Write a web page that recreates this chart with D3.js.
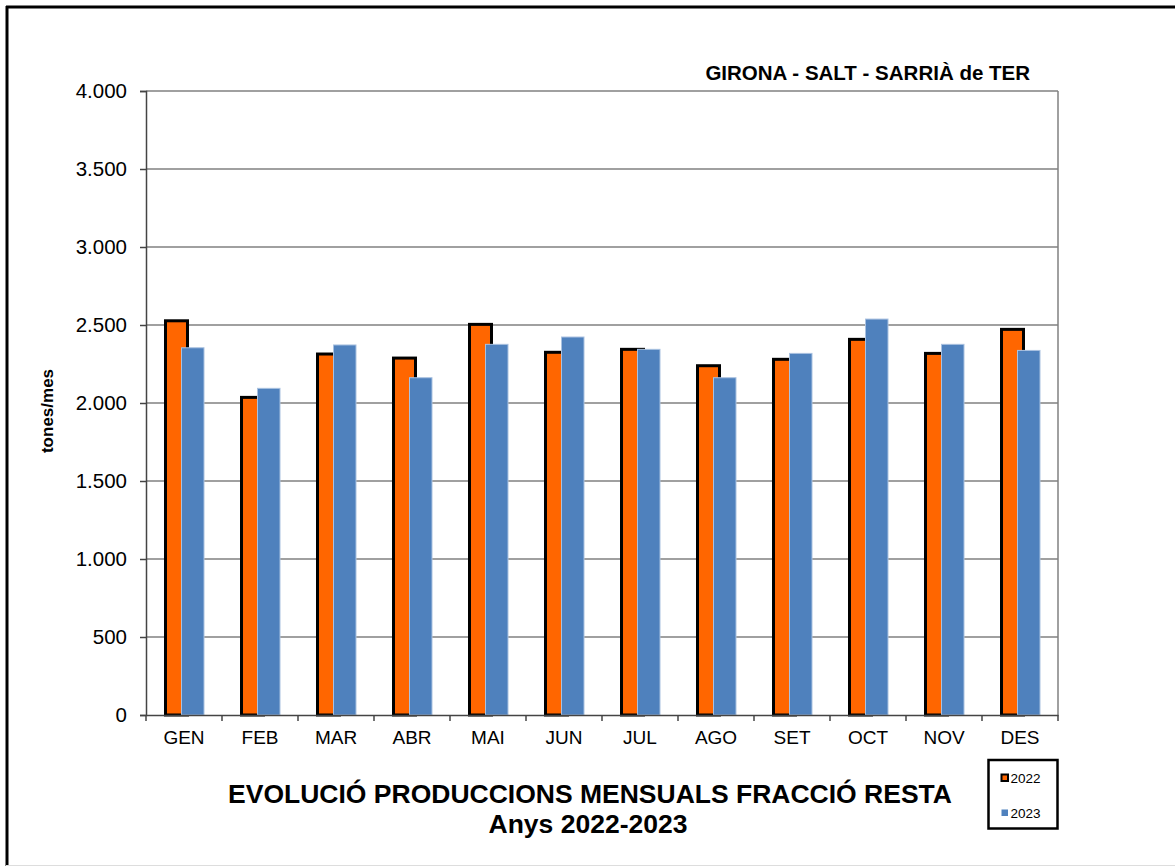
<!DOCTYPE html>
<html><head><meta charset="utf-8">
<script src="https://cdn.jsdelivr.net/npm/d3@7"></script>
<style>body{margin:0;background:#fff}svg{display:block}text{font-family:Arial,"Liberation Sans",sans-serif}</style>
</head><body>
<svg id="c" width="1175" height="866"></svg>
<script>
const months = ["GEN","FEB","MAR","ABR","MAI","JUN","JUL","AGO","SET","OCT","NOV","DES"];
const values2022 = [2527,2036,2314,2288,2504,2325,2344,2239,2280,2408,2318,2472];
const values2023 = [2354,2094,2372,2162,2376,2423,2344,2162,2318,2538,2376,2337];
const yTicks = [0,500,1000,1500,2000,2500,3000,3500,4000];
const seriesNames = ["2022","2023"];

const svg = d3.select("#c");
const FF = "Arial,'Liberation Sans',sans-serif";
const L=146, R=1058, T=91, B=715;
const x = d3.scaleBand().domain(months).range([L,R]);
const y = d3.scaleLinear().domain([0,4000]).range([B,T]);
const fmt = v => d3.format(",")(v).replace(/,/g,".");

// outer frame
svg.append("line").attr("x1",6).attr("x2",1175).attr("y1",7).attr("y2",7).attr("stroke","#000").attr("stroke-width",3);
svg.append("line").attr("x1",7).attr("x2",7).attr("y1",6).attr("y2",866).attr("stroke","#000").attr("stroke-width",3);
svg.append("line").attr("x1",6).attr("x2",1175).attr("y1",865.5).attr("y2",865.5).attr("stroke","#ddd").attr("stroke-width",1);

// gridlines
svg.append("g").selectAll("line").data(yTicks.filter(d=>d>0)).join("line")
  .attr("x1",L).attr("x2",R).attr("y1",d=>y(d)).attr("y2",d=>y(d))
  .attr("stroke","#808080").attr("stroke-width",1.5);
svg.append("line").attr("x1",R).attr("x2",R).attr("y1",T).attr("y2",B).attr("stroke","#808080").attr("stroke-width",1.5);

// y axis
const ya = svg.append("g").attr("transform",`translate(${L},0)`)
  .call(d3.axisLeft(y).tickValues(yTicks).tickFormat(fmt).tickSize(6).tickPadding(13));
ya.select(".domain").attr("stroke","#444").attr("stroke-width",1.5);
ya.selectAll(".tick line").attr("stroke","#444").attr("stroke-width",1.5);
ya.selectAll("text").attr("font-size",20.5).attr("fill","#000").attr("font-family",FF);

// bars 2022
svg.append("g").selectAll("rect").data(months).join("rect")
  .attr("x",d=>x(d)+19.5).attr("width",22)
  .attr("y",(d,i)=>y(values2022[i])).attr("height",(d,i)=>B-y(values2022[i]))
  .attr("fill","#FF6600").attr("stroke","#000").attr("stroke-width",3);
// bars 2023
svg.append("g").selectAll("rect").data(months).join("rect")
  .attr("x",d=>x(d)+35.5).attr("width",22.5)
  .attr("y",(d,i)=>y(values2023[i])).attr("height",(d,i)=>B-y(values2023[i]))
  .attr("fill","#4F81BD").attr("stroke","#A9C1E0").attr("stroke-width",1);

// x axis
const xa = svg.append("g").attr("transform",`translate(0,${B})`)
  .call(d3.axisBottom(x).tickSize(0).tickPadding(15.5));
xa.select(".domain").attr("stroke","#444").attr("stroke-width",1.5);
xa.selectAll("text").attr("font-size",19).attr("fill","#000").attr("font-family",FF);
svg.append("g").selectAll("line").data(d3.range(13)).join("line")
  .attr("x1",i=>L+i*x.step()).attr("x2",i=>L+i*x.step()).attr("y1",B).attr("y2",B+6)
  .attr("stroke","#444").attr("stroke-width",1.5);

// texts
svg.append("text").attr("x",47).attr("y",411).attr("transform","rotate(-90,47,411)")
  .attr("text-anchor","middle").attr("dy","0.35em").attr("font-size",17).attr("font-weight","bold").text("tones/mes");
svg.append("text").attr("x",1030).attr("y",80).attr("text-anchor","end")
  .attr("font-size",20.5).attr("font-weight","bold").text("GIRONA - SALT - SARRIÀ de TER");
svg.append("text").attr("x",590).attr("y",803).attr("text-anchor","middle")
  .attr("font-size",26.5).attr("font-weight","bold").text("EVOLUCIÓ PRODUCCIONS MENSUALS FRACCIÓ RESTA");
svg.append("text").attr("x",588).attr("y",833).attr("text-anchor","middle")
  .attr("font-size",26.5).attr("font-weight","bold").text("Anys 2022-2023");

// legend
svg.append("rect").attr("x",988.5).attr("y",760).attr("width",69).attr("height",68.5)
  .attr("fill","#fff").attr("stroke","#000").attr("stroke-width",2.5);
const lg = svg.append("g").selectAll("g").data(seriesNames).join("g")
  .attr("transform",(d,i)=>`translate(1001,${774+i*35})`);
lg.append("rect").attr("x",0.5).attr("y",0.5).attr("width",6.5).attr("height",6.5)
  .attr("fill",(d,i)=>i===0?"#FF6600":"#4F81BD").attr("stroke",(d,i)=>i===0?"#000":"none").attr("stroke-width",2);
lg.append("text").attr("x",9.5).attr("y",8.5).attr("font-size",13.5).text(d=>d);
</script>
</body></html>
